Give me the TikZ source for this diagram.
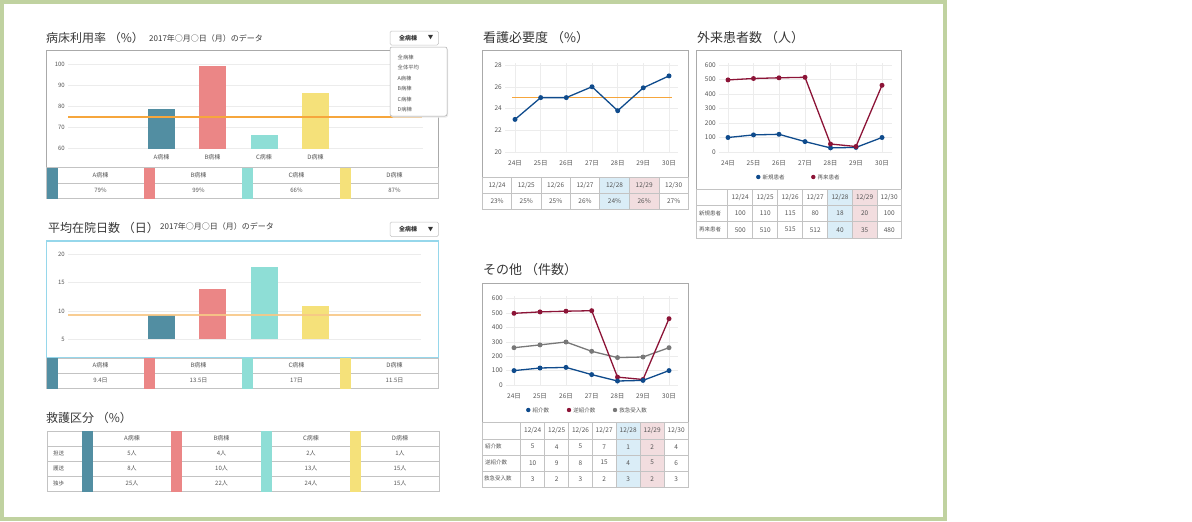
\documentclass[tikz,border=0pt]{standalone}
\usepackage{fontspec}
\setmainfont{Noto Sans CJK JP}
\definecolor{frameg}{RGB}{192,210,160}
\definecolor{wa}{RGB}{82,142,162}
\definecolor{wb}{RGB}{235,134,134}
\definecolor{wc}{RGB}{142,222,214}
\definecolor{wd}{RGB}{245,225,122}
\definecolor{boxg}{RGB}{170,170,170}
\definecolor{tblg}{RGB}{195,195,195}
\definecolor{gridg}{RGB}{236,236,236}
\definecolor{ttlc}{RGB}{55,55,55}
\definecolor{lblc}{RGB}{85,85,85}
\definecolor{avgor}{RGB}{246,166,60}
\definecolor{orl2}{RGB}{247,200,135}
\definecolor{sblue}{RGB}{15,75,140}
\definecolor{sred}{RGB}{140,20,55}
\definecolor{sgray}{RGB}{120,120,120}
\definecolor{cellb}{RGB}{218,237,247}
\definecolor{cellp}{RGB}{242,221,223}
\definecolor{selb}{RGB}{150,215,235}
\tikzset{
 ttl/.style={anchor=west, inner sep=0, text=ttlc, font=\fontsize{12}{14}\selectfont},
 ttlr/.style={ttl, font=\fontsize{13}{15}\selectfont},
 sub/.style={anchor=west, inner sep=0, text=ttlc, font=\fontsize{8}{9}\selectfont},
 lbl/.style={inner sep=0, text=lblc, font=\fontsize{6}{7}\selectfont},
 tlbl/.style={inner sep=0, text=lblc, font=\fontsize{6.5}{7.5}\selectfont},
 chartbox/.style={draw=boxg, line width=0.8pt},
 tline/.style={draw=tblg, line width=0.6pt},
 gridln/.style={draw=gridg, line width=0.5pt},
 btn/.style={draw=tblg, fill=white, rounded corners=1.5pt, line width=0.5pt},
 btntext/.style={inner sep=0, text=black!80, font=\fontsize{6}{7}\selectfont\bfseries},
 serline/.style={line width=1.3pt, line join=round},
 avgline/.style={draw=avgor, line width=1.2pt},
}
\begin{document}
\begin{tikzpicture}[x=1pt,y=-1pt]
\useasboundingbox (0,0) rectangle (1192,522);
\draw[frameg, line width=4pt] (2,2) rectangle (945,519);

%% ================= Panel 1: bed utilisation
\node[ttl] (t1) at (46,37.5) {病床利用率 （\%）};
\node[sub] (s1) at (149,38) {2017年○月○日（月）のデータ};
\draw[chartbox] (46.5,50.5) rectangle (438.5,167.5);
\foreach \v/\y in {100/64,90/85,80/106,70/127,60/148}{
  \draw[gridln] (68,\y) -- (423,\y);
  \node[lbl,anchor=east] at (65,\y) {\v};
}
\fill[wa] (148,109) rectangle (174.5,149);
\fill[wb] (199,66) rectangle (226,149);
\fill[wc] (251,135) rectangle (277.5,149);
\fill[wd] (302,92.5) rectangle (329,149);
\foreach \n/\x in {A/161.5,B/212.5,C/264,D/315.5}
  \node[lbl] at (\x,157) {\n{}病棟};
\draw[avgline] (68,117) -- (422,117);
% table 1
\draw[tline] (46.5,167.5) rectangle (438.5,198.5);
\draw[tline] (46.5,183) -- (438.5,183);
\foreach \x in {144,242,340} \draw[tline] (\x,167.5) -- (\x,198.5);
\foreach \c/\xs/\xm/\nm/\val in {wa/46.5/100.5/A病棟/79\%, wb/144/198.5/B病棟/99\%, wc/242/296.5/C病棟/66\%, wd/340/394.5/D病棟/87\%}{
  \fill[\c] (\xs,167.5) rectangle ++(11,31);
  \node[lbl] at (\xm,175.5) {\nm};
  \node[lbl] at (\xm,190.5) {\val};
}
% dropdown 1
\draw[btn] (390,31) rectangle (438.5,45);
\node[btntext] (dd1) at (408,38) {全病棟};
\node[btntext, font=\fontsize{5.5}{6}\selectfont] at (430.5,38) {▼};
\fill[black!8, rounded corners=2pt] (391,48) rectangle (448,117.5);
\draw[btn, rounded corners=2pt, draw=boxg] (390,47) rectangle (447,116);
\foreach \t/\y in {全病棟/57, 全体平均/67.3, A病棟/78, B病棟/88.3, C病棟/99, D病棟/109.3}
  \node[lbl, anchor=west, font=\fontsize{5.3}{6}\selectfont] at (397.5,\y) {\t};

%% ================= Panel 2: average stay
\node[ttl] (t2) at (48,227.5) {平均在院日数 （日）};
\node[sub] (s2) at (160,226.5) {2017年○月○日（月）のデータ};
\draw[btn] (390,222) rectangle (438.5,236.5);
\node[btntext] (dd2) at (408,229.3) {全病棟};
\node[btntext, font=\fontsize{5.5}{6}\selectfont] at (430.5,229.3) {▼};
\foreach \v/\y in {20/254,15/282,10/311,5/339}{
  \draw[gridln] (68,\y) -- (421,\y);
  \node[lbl,anchor=east] at (65,\y) {\v};
}
\fill[wa] (148,315) rectangle (174.5,339);
\fill[wb] (199,289) rectangle (226,339);
\fill[wc] (251,267) rectangle (277.5,339);
\fill[wd] (302,306) rectangle (329,339);
\draw[orl2, line width=1.8pt, opacity=0.9] (68,315) -- (421,315);
\draw[selb, line width=1.5pt] (46.5,241) rectangle (438.5,357.5);
% table 2
\draw[tline] (46.5,358.3) rectangle (438.5,388.5);
\draw[tline] (46.5,373.3) -- (438.5,373.3);
\foreach \x in {144,242,340} \draw[tline] (\x,358.3) -- (\x,388.5);
\foreach \c/\xs/\xm/\nm/\val in {wa/46.5/100.5/A病棟/9.4日, wb/144/198.5/B病棟/13.5日, wc/242/296.5/C病棟/17日, wd/340/394.5/D病棟/11.5日}{
  \fill[\c] (\xs,358.3) rectangle ++(11,30.2);
  \node[lbl] at (\xm,365.5) {\nm};
  \node[lbl] at (\xm,380.7) {\val};
}

%% ================= Panel 3: rescue classification
\node[ttl] (t3) at (46,418) {救護区分 （\%）};
\draw[tline] (47,431) rectangle (439.5,491.5);
\foreach \y in {446,461,476} \draw[tline] (47,\y) -- (439.5,\y);
\foreach \x in {82,171.3,261,350.3} \draw[tline] (\x,431) -- (\x,491.5);
\foreach \c/\xs in {wa/82,wb/171.3,wc/261,wd/350.3}
  \fill[\c] (\xs,431) rectangle ++(10.7,60.5);
\foreach \x/\h/\a/\b/\cc in {132/A病棟/5人/8人/25人, 221.5/B病棟/4人/10人/22人, 311/C病棟/2人/13人/24人, 400/D病棟/1人/15人/15人}{
  \node[lbl] at (\x,438.5) {\h};
  \node[lbl] at (\x,453.5) {\a};
  \node[lbl] at (\x,468.5) {\b};
  \node[lbl] at (\x,483.5) {\cc};
}
\foreach \t/\y in {担送/453.5, 護送/468.5, 独歩/483.5}
  \node[lbl, anchor=west, font=\fontsize{5.5}{6}\selectfont] at (53,\y) {\t};

%% ================= Panel 4: nursing necessity
\node[ttlr] (t4) at (483,37.5) {看護必要度 （\%）};
\draw[chartbox] (482.5,50.5) rectangle (688.5,177.5);
\foreach \x in {515,540.7,566.3,592,617.7,643.3,669} \draw[gridln] (\x,63) -- (\x,153);
\foreach \v/\y in {28/65,26/86.75,24/108.5,22/130.25,20/152}{
  \draw[gridln] (505,\y) -- (678,\y);
  \node[tlbl,anchor=east] at (502,\y) {\v};
}
\foreach \x/\d in {515/24,540.7/25,566.3/26,592/27,617.7/28,643.3/29,669/30}
  \node[tlbl] at (\x,163) {\d{}日};
\draw[avgline] (512,97.5) -- (672,97.5);
\draw[sblue, serline] (515,119.4) -- (540.7,97.6) -- (566.3,97.6) -- (592,86.75) -- (617.7,110.7) -- (643.3,87.8) -- (669,75.9);
\foreach \x/\y in {515/119.4,540.7/97.6,566.3/97.6,592/86.75,617.7/110.7,643.3/87.8,669/75.9}
  \fill[sblue] (\x,\y) circle (2.5);
% table 4
\fill[cellb] (599.7,177.5) rectangle (629.3,209.5);
\fill[cellp] (629.3,177.5) rectangle (659,209.5);
\draw[tline] (482.5,177.5) rectangle (688.5,209.5);
\draw[tline] (482.5,193.5) -- (688.5,193.5);
\foreach \x in {511.7,541,570.3,599.7,629.3,659} \draw[tline] (\x,177.5) -- (\x,209.5);
\foreach \x/\d/\v in {497.1/24/23,526.3/25/25,555.7/26/25,585/27/26,614.5/28/24,644.2/29/26,673.7/30/27}{
  \node[tlbl] at (\x,185.5) {12/\d};
  \node[tlbl] at (\x,201.5) {\v\%};
}

%% ================= Panel 5: outpatients
\node[ttlr] (t5) at (697,37.5) {外来患者数 （人）};
\draw[chartbox] (696.5,50.5) rectangle (901.5,189);
\foreach \x in {728,753.5,779,805,830.5,856,882} \draw[gridln] (\x,63) -- (\x,153);
\foreach \v/\y in {600/65,500/79.5,400/94,300/108.5,200/123,100/137.5,0/152}{
  \draw[gridln] (719,\y) -- (892,\y);
  \node[tlbl,anchor=east] at (716,\y) {\v};
}
\foreach \x/\d in {728/24,753.5/25,779/26,805/27,830.5/28,856/29,882/30}
  \node[tlbl] at (\x,163) {\d{}日};
\draw[sblue, serline] (728,137.5) -- (753.5,134.9) -- (779,134.3) -- (805,141.6) -- (830.5,147.9) -- (856,147.4) -- (882,137.5);
\foreach \x/\y in {728/137.5,753.5/134.9,779/134.3,805/141.6,830.5/147.9,856/147.4,882/137.5}
  \fill[sblue] (\x,\y) circle (2.5);
\draw[sred, serline] (728,79.9) -- (753.5,78.5) -- (779,77.8) -- (805,77.3) -- (830.5,144) -- (856,146.5) -- (882,85.3);
\foreach \x/\y in {728/79.9,753.5/78.5,779/77.8,805/77.3,830.5/144,856/146.5,882/85.3}
  \fill[sred] (\x,\y) circle (2.5);
\fill[sblue] (758.3,177) circle (2.2);
\node[lbl, anchor=west, font=\fontsize{5.5}{6}\selectfont] at (762.5,177) {新規患者};
\fill[sred] (813.3,177) circle (2.2);
\node[lbl, anchor=west, font=\fontsize{5.5}{6}\selectfont] at (817.5,177) {再来患者};
% table 5
\fill[cellb] (827.7,189) rectangle (852.3,238);
\fill[cellp] (852.3,189) rectangle (877,238);
\draw[tline] (696.5,189) rectangle (901.5,238);
\foreach \y in {205,221.7} \draw[tline] (696.5,\y) -- (901.5,\y);
\foreach \x in {727.7,752.7,777.7,802.7,827.7,852.3,877} \draw[tline] (\x,189) -- (\x,238);
\foreach \x/\d/\a/\b in {740.2/24/100/500,765.2/25/110/510,790.2/26/115/515,815.2/27/80/512,840/28/18/40,864.7/29/20/35,889.2/30/100/480}{
  \node[tlbl] at (\x,197) {12/\d};
  \node[tlbl] at (\x,213.3) {\a};
  \node[tlbl] at (\x,229.7) {\b};
}
\node[lbl, anchor=west, font=\fontsize{5.5}{6}\selectfont] at (699,213.3) {新規患者};
\node[lbl, anchor=west, font=\fontsize{5.5}{6}\selectfont] at (699,229.7) {再来患者};

%% ================= Panel 6: others
\node[ttlr] (t6) at (483,270) {その他 （件数）};
\draw[chartbox] (482.5,283) rectangle (688.5,422.5);
\foreach \x in {514,540,566,591.7,617.5,643,669} \draw[gridln] (\x,296) -- (\x,386);
\foreach \v/\y in {600/298.5,500/313,400/327.4,300/341.8,200/356.2,100/370.6,0/385}{
  \draw[gridln] (506,\y) -- (678,\y);
  \node[tlbl,anchor=east] at (503,\y) {\v};
}
\foreach \x/\d in {514/24,540/25,566/26,591.7/27,617.5/28,643/29,669/30}
  \node[tlbl] at (\x,396) {\d{}日};
\draw[sgray, serline] (514,347.7) -- (540,344.9) -- (566,342) -- (591.7,351.3) -- (617.5,357.6) -- (643,357) -- (669,347.7);
\foreach \x/\y in {514/347.7,540/344.9,566/342,591.7/351.3,617.5/357.6,643/357,669/347.7}
  \fill[sgray] (\x,\y) circle (2.5);
\draw[sred, serline] (514,313.3) -- (540,311.9) -- (566,311.2) -- (591.7,310.7) -- (617.5,377.1) -- (643,379.5) -- (669,318.7);
\foreach \x/\y in {514/313.3,540/311.9,566/311.2,591.7/310.7,617.5/377.1,643/379.5,669/318.7}
  \fill[sred] (\x,\y) circle (2.5);
\draw[sblue, serline] (514,370.6) -- (540,368) -- (566,367.4) -- (591.7,374.6) -- (617.5,381) -- (643,380.4) -- (669,370.6);
\foreach \x/\y in {514/370.6,540/368,566/367.4,591.7/374.6,617.5/381,643/380.4,669/370.6}
  \fill[sblue] (\x,\y) circle (2.5);
\fill[sblue] (528.3,410) circle (2.2);
\node[lbl, anchor=west, font=\fontsize{5.5}{6}\selectfont] at (532.5,410) {紹介数};
\fill[sred] (569,410) circle (2.2);
\node[lbl, anchor=west, font=\fontsize{5.5}{6}\selectfont] at (573.2,410) {逆紹介数};
\fill[sgray] (615,410) circle (2.2);
\node[lbl, anchor=west, font=\fontsize{5.5}{6}\selectfont] at (619.2,410) {救急受入数};
% table 6
\fill[cellb] (616,422.5) rectangle (640.3,487.5);
\fill[cellp] (640.3,422.5) rectangle (664,487.5);
\draw[tline] (482.5,422.5) rectangle (688.5,487.5);
\foreach \y in {439,455,471} \draw[tline] (482.5,\y) -- (688.5,\y);
\foreach \x in {520.7,544.7,568.7,592.3,616,640.3,664} \draw[tline] (\x,422.5) -- (\x,487.5);
\foreach \x/\d/\a/\b/\cc in {532.7/24/5/10/3,556.7/25/4/9/2,580.5/26/5/8/3,604.2/27/7/15/2,628.2/28/1/4/3,652.2/29/2/5/2,676.2/30/4/6/3}{
  \node[tlbl] at (\x,430.7) {12/\d};
  \node[tlbl] at (\x,446.7) {\a};
  \node[tlbl] at (\x,462.7) {\b};
  \node[tlbl] at (\x,478.7) {\cc};
}
\node[lbl, anchor=west, font=\fontsize{5.5}{6}\selectfont] at (485,446.7) {紹介数};
\node[lbl, anchor=west, font=\fontsize{5.5}{6}\selectfont] at (485,462.7) {逆紹介数};
\node[lbl, anchor=west, font=\fontsize{5.5}{6}\selectfont] at (484,478.7) {救急受入数};
\end{tikzpicture}
\end{document}
